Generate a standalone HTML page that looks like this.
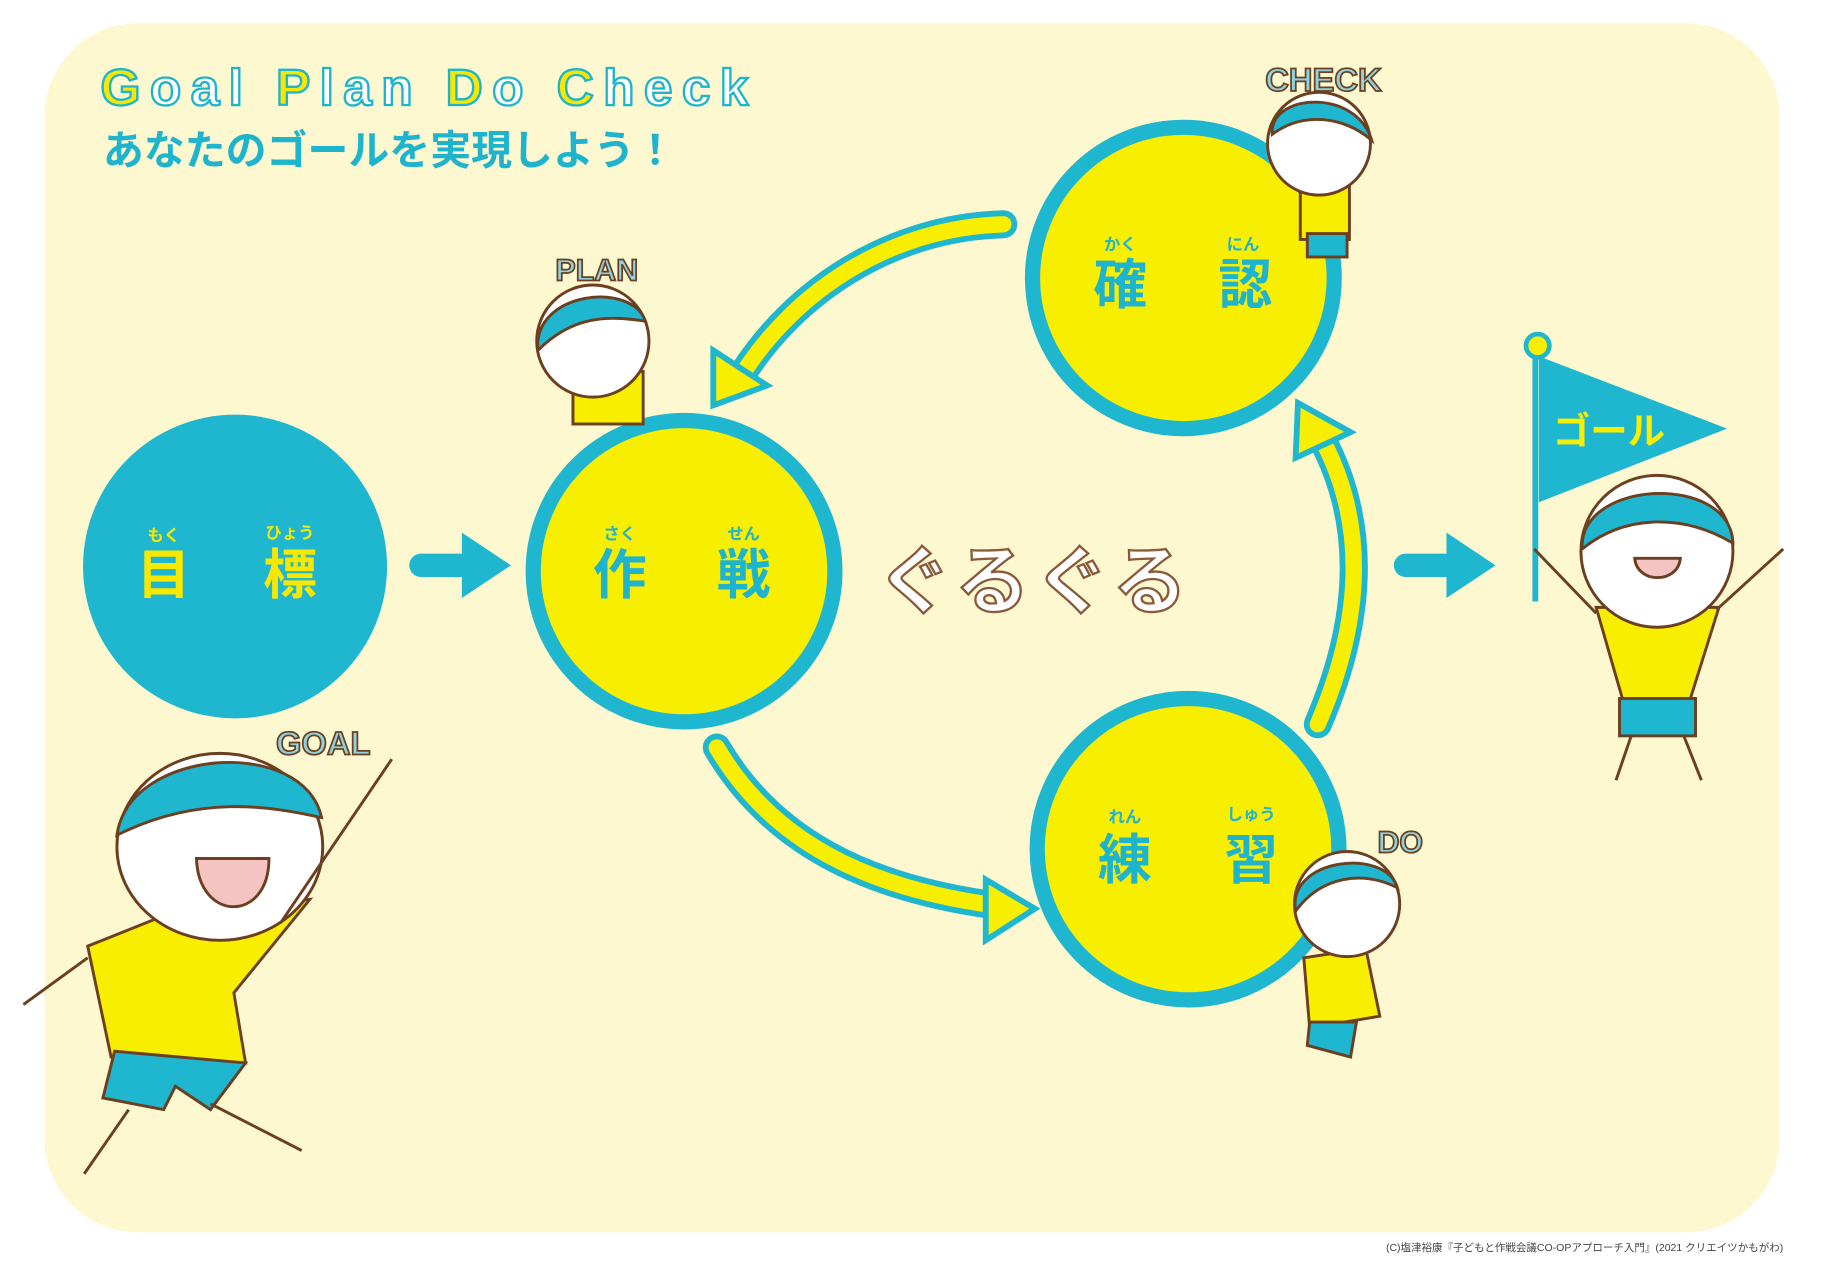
<!DOCTYPE html>
<html><head><meta charset="utf-8"><style>
html,body{margin:0;padding:0;background:#fff;}
svg{display:block;}
text{font-family:"Liberation Sans","Noto Sans CJK JP",sans-serif;}
</style></head><body>
<svg width="1830" height="1265" viewBox="0 0 1565 1083" preserveAspectRatio="none" xmlns="http://www.w3.org/2000/svg">
<rect x="0" y="0" width="1565" height="1083" fill="#fff"/>
<rect x="38" y="20" width="1484" height="1035" rx="80" fill="#fdf8cf"/>
<!-- title -->
<text x="86" y="90" font-size="44" font-weight="bold" letter-spacing="8" fill="#fff" stroke="#1fb4cd" stroke-width="2"><tspan fill="#f8e800">G</tspan>oal <tspan fill="#f8e800">P</tspan>lan <tspan fill="#f8e800">D</tspan>o <tspan fill="#f8e800">C</tspan>heck</text>
<text x="88" y="141" font-size="35" font-weight="bold" fill="#1fb4cd">あなたのゴールを実現しよう！</text>
<!-- goal circle -->
<circle cx="201" cy="485" r="130" fill="#1fb7cf"/>
<text x="140" y="463" font-size="14" font-weight="bold" fill="#f8e800" text-anchor="middle">もく</text>
<text x="248" y="461" font-size="14" font-weight="bold" fill="#f8e800" text-anchor="middle">ひょう</text>
<text x="140" y="508" font-size="46" font-weight="bold" fill="#f8e800" text-anchor="middle">目</text>
<text x="248" y="508" font-size="46" font-weight="bold" fill="#f8e800" text-anchor="middle">標</text>
<!-- arrows straight -->
<g fill="#1fb7cf">
<rect x="350" y="474" width="55" height="20" rx="10"/><polygon points="395,456 437,484 395,512"/>
<rect x="1192" y="474" width="55" height="20" rx="10"/><polygon points="1237,456 1279,484 1237,512"/>
</g>
<!-- circles -->
<circle cx="585" cy="489" r="129" fill="#f8ee00" stroke="#1fb7cf" stroke-width="13"/>
<circle cx="1012" cy="238" r="129" fill="#f8ee00" stroke="#1fb7cf" stroke-width="13"/>
<circle cx="1016" cy="727" r="129" fill="#f8ee00" stroke="#1fb7cf" stroke-width="13"/>
<g fill="#1fb4cd" font-weight="bold" text-anchor="middle">
<text x="530" y="462" font-size="14">さく</text><text x="636" y="462" font-size="14">せん</text>
<text x="530" y="508" font-size="46">作</text><text x="636" y="508" font-size="46">戦</text>
<text x="958" y="214" font-size="14">かく</text><text x="1063" y="214" font-size="14">にん</text>
<text x="958" y="260" font-size="46">確</text><text x="1065" y="260" font-size="46">認</text>
<text x="962" y="704" font-size="14">れん</text><text x="1070" y="702" font-size="14">しゅう</text>
<text x="962" y="752" font-size="46">練</text><text x="1070" y="752" font-size="46">習</text>
</g>
<!-- curved arrows -->
<g fill="none" stroke-linecap="round">
<path d="M858,192 C760,195 680,250 635,320" stroke="#1fb7cf" stroke-width="24"/>
<path d="M858,192 C760,195 680,250 635,320" stroke="#f8ee00" stroke-width="14"/>
<path d="M613,640 C660,720 740,760 850,775" stroke="#1fb7cf" stroke-width="24"/>
<path d="M613,640 C660,720 740,760 850,775" stroke="#f8ee00" stroke-width="14"/>
<path d="M1127,620 C1170,520 1165,440 1130,375" stroke="#1fb7cf" stroke-width="24"/>
<path d="M1127,620 C1170,520 1165,440 1130,375" stroke="#f8ee00" stroke-width="14"/>
</g>
<g fill="#f8ee00" stroke="#1fb7cf" stroke-width="5" stroke-linejoin="miter">
<polygon points="610,300 610,347 656,330"/>
<polygon points="843,753 885,778 843,805"/>
<polygon points="1110,345 1155,370 1108,392"/>
</g>
<!-- guruguru -->
<text x="750" y="520" font-size="64" font-weight="bold" fill="#fff" stroke="#8a5a3a" stroke-width="2" letter-spacing="4">ぐるぐる</text>
<!-- labels -->
<g font-weight="bold" fill="#8fd3e0" stroke="#6b3f1f" stroke-width="1.5">
<text x="1082" y="78" font-size="28">CHECK</text>
<text x="475" y="240" font-size="26">PLAN</text>
<text x="236" y="646" font-size="28">GOAL</text>
<text x="1178" y="730" font-size="26">DO</text>
</g>
<!-- flag -->
<line x1="1313" y1="300" x2="1313" y2="515" stroke="#1fb7cf" stroke-width="5"/>
<circle cx="1315" cy="296" r="10" fill="#f8ee00" stroke="#1fb7cf" stroke-width="4"/>
<polygon points="1316,305 1477,367 1316,430" fill="#1fb7cf"/>
<text x="1376" y="380" font-size="32" font-weight="bold" fill="#f8ee00" text-anchor="middle">ゴール</text>
<!-- kids (simplified) -->
<g stroke="#6b3f1f" stroke-width="2.5">
<polygon points="75,810 150,780 265,770 200,850 210,910 95,905" fill="#f8ee00"/>
<polygon points="98,900 210,910 180,950 150,930 140,950 88,940" fill="#1fb7cf"/>
<ellipse cx="188" cy="725" rx="88" ry="80" fill="#fff"/>
<path d="M100,715 C110,640 260,630 275,700 C230,690 170,680 100,715Z" fill="#1fb7cf"/>
<path d="M168,735 C170,790 230,790 230,735Z" fill="#f6c3c3"/>
<line x1="240" y1="790" x2="335" y2="650"/>
<line x1="75" y1="820" x2="20" y2="860"/>
<line x1="110" y1="950" x2="72" y2="1005"/>
<line x1="180" y1="945" x2="258" y2="985"/>
<rect x="490" y="318" width="60" height="45" fill="#f8ee00"/>
<circle cx="507" cy="292" r="48" fill="#fff"/>
<path d="M460,300 C455,250 540,240 552,275 C520,270 490,270 460,300Z" fill="#1fb7cf"/>
<rect x="1112" y="155" width="42" height="50" fill="#f8ee00"/>
<rect x="1118" y="200" width="34" height="20" fill="#1fb7cf"/>
<circle cx="1128" cy="123" r="44" fill="#fff"/>
<path d="M1088,115 C1085,80 1160,75 1173,120 C1150,100 1115,95 1088,115Z" fill="#1fb7cf"/>
<polygon points="1115,820 1168,812 1180,870 1120,880" fill="#f8ee00"/>
<polygon points="1120,875 1160,875 1155,905 1118,895" fill="#1fb7cf"/>
<circle cx="1152" cy="774" r="45" fill="#fff"/>
<path d="M1108,780 C1100,735 1185,725 1195,760 C1165,745 1130,750 1108,780Z" fill="#1fb7cf"/>
<polygon points="1365,520 1470,520 1445,600 1388,600" fill="#f8ee00"/>
<rect x="1385" y="598" width="65" height="32" fill="#1fb7cf"/>
<circle cx="1417" cy="472" r="65" fill="#fff"/>
<path d="M1353,470 C1350,410 1480,405 1482,465 C1440,440 1390,440 1353,470Z" fill="#1fb7cf"/>
<path d="M1398,478 C1400,500 1435,500 1437,478Z" fill="#f6c3c3"/>
<line x1="1365" y1="525" x2="1312" y2="470"/>
<line x1="1468" y1="522" x2="1525" y2="470"/>
<line x1="1395" y1="630" x2="1382" y2="668"/>
<line x1="1440" y1="630" x2="1455" y2="668"/>
</g>
<text x="1525" y="1071" font-size="9" fill="#444" text-anchor="end">(C)塩津裕康『子どもと作戦会議CO-OPアプローチ入門』(2021 クリエイツかもがわ)</text>
</svg>
</body></html>
